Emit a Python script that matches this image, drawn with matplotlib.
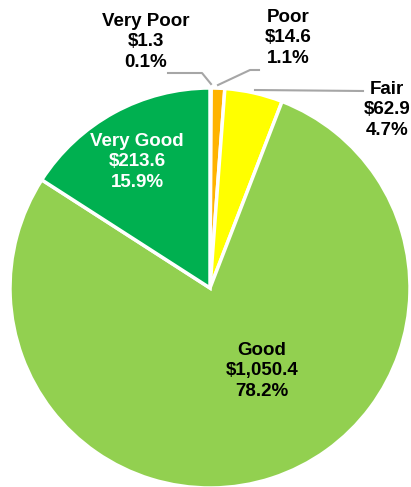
import matplotlib
matplotlib.use("Agg")
import matplotlib.pyplot as plt

# condition categories, clockwise from 12 o'clock
labels = ["Very Poor", "Poor", "Fair", "Good", "Very Good"]
values = [1.3, 14.6, 62.9, 1050.4, 213.6]
percents = ["0.1%", "1.1%", "4.7%", "78.2%", "15.9%"]
colors = ["#E8401C", "#FFB300", "#FFFF00", "#92D050", "#00B050"]

plt.rcParams["font.family"] = ["Liberation Sans", "DejaVu Sans"]

W, H = 411, 487
fig = plt.figure(figsize=(W / 100, H / 100), dpi=100)
ax = fig.add_axes([0, 0, 1, 1])

cx, cy, r = 210, 288, 200
# y axis is inverted, so flip pie direction to keep it clockwise on screen
ax.pie(values, colors=colors, startangle=-90, counterclock=True,
       center=(cx, cy), radius=r, frame=True,
       wedgeprops=dict(edgecolor="white", linewidth=2.5))
ax.set_xlim(0, W)
ax.set_ylim(H, 0)
ax.set_aspect("equal")
ax.axis("off")


def text_for(i, x, y, color="black", ha="center"):
    s = f"{labels[i]}\n${values[i]:,.1f}\n{percents[i]}"
    ax.text(x, y, s, ha=ha, va="center", fontsize=13.5, fontweight="bold",
            color=color, linespacing=1.3)


text_for(0, 146, 42)
text_for(1, 288, 38)
text_for(2, 387, 110)
text_for(3, 262, 371)
text_for(4, 137, 162, color="white")

lc = "#A6A6A6"
ax.plot([168, 202, 211], [73, 73, 84], color=lc, lw=1.5)
ax.plot([259, 250, 218], [70, 70, 85], color=lc, lw=1.5)
ax.plot([255, 363], [90, 91], color=lc, lw=1.5)

fig.savefig("out.png", dpi=100)
